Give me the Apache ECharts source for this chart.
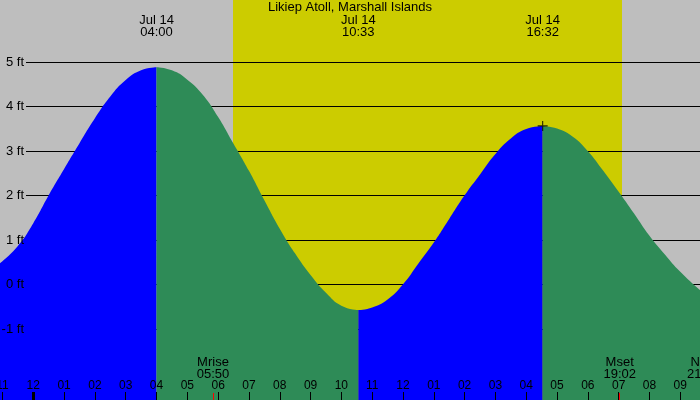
<!DOCTYPE html>
<html>
<head>
<meta charset="utf-8">
<script src="https://cdn.jsdelivr.net/npm/echarts@6/dist/echarts.min.js"></script>
<style>
  html, body { margin: 0; padding: 0; background: #bebebe; }
  #chart { width: 700px; height: 400px; }
</style>
</head>
<body>
<div id="chart"></div>
<script>
// data
const chartTitle = "Likiep Atoll, Marshall Islands";
const dayLabel = "Jul 14";
// tide curve, hours from local midnight
const tideTimes = [-1.08, -0.5, 0, 0.5, 1, 1.5, 2, 2.5, 3, 3.5, 4, 4.5, 5, 5.5, 6, 6.5, 7, 7.5, 8, 8.5, 9, 9.5, 10, 10.55,
  11, 11.5, 12, 12.5, 13, 13.5, 14, 14.5, 15, 15.5, 16, 16.5333, 17, 17.5, 18, 18.5, 19, 19.5, 20, 20.5, 21, 21.64];
const tideHeights = [0.48, 0.87, 1.38, 2.01, 2.6, 3.18, 3.74, 4.23, 4.6, 4.82, 4.89, 4.82, 4.61, 4.27, 3.77, 3.17, 2.56, 1.9, 1.26, 0.7, 0.22, -0.18, -0.47, -0.57,
  -0.51, -0.33, 0.01, 0.48, 0.95, 1.48, 2.01, 2.48, 2.94, 3.29, 3.5, 3.57, 3.51, 3.33, 3.0, 2.56, 2.09, 1.6, 1.1, 0.68, 0.29, -0.12];
const extremeTimes = ["04:00", "10:33", "16:32"];
const extremeHeights = [4.89, -0.57, 3.57];
const markedExtreme = 2;
const sunTimes = ["06:29", "19:06"];
const moonNames = ["Mrise", "Mset", "New"];
const moonTimes = ["05:50", "19:02", "21:45"];
const hourTicks = [-1, 0, 1, 2, 3, 4, 5, 6, 7, 8, 9, 10, 11, 12, 13, 14, 15, 16, 17, 18, 19, 20, 21];
const midnightTicks = [0];
const feetTicks = [-1, 0, 1, 2, 3, 4, 5];

const xMin = -1.08, xMax = 21.64;
const yMin = -2.59, yMax = 6.40;
const font = "'Liberation Sans', Arial, sans-serif";
const GRAY = "#bebebe", YELLOW = "#cccc00", BLUE = "#0000ff", GREEN = "#2e8b57";

function toHours(s) {
  const p = s.split(":");
  return +p[0] + +p[1] / 60;
}
function pad(n) { return (n < 10 ? "0" : "") + n; }
function hhmm(v) {
  const m = Math.round(v * 60);
  return pad(Math.floor(m / 60)) + ":" + pad(m % 60);
}

const extremeHours = extremeTimes.map(toHours);
const bounds = [tideTimes[0]].concat(extremeHours, [tideTimes[tideTimes.length - 1]]);

var tideSeries = [];
for (var i = 0; i < bounds.length - 1; i++) {
  var seg = [];
  tideTimes.forEach(function (t, j) {
    if (t >= bounds[i] - 1e-3 && t <= bounds[i + 1] + 1e-3) seg.push([t, tideHeights[j]]);
  });
  var rising = seg[seg.length - 1][1] > seg[0][1];
  tideSeries.push({
    type: "line",
    data: seg,
    smooth: 0.5,
    symbol: "none",
    silent: true,
    z: 3,
    lineStyle: { width: 0 },
    areaStyle: { color: rising ? BLUE : GREEN, opacity: 1, origin: "start" },
  });
}

function xAxisBase(extra) {
  return Object.assign({
    type: "value", min: xMin, max: xMax, position: "bottom", z: 10,
    axisLine: { show: false, onZero: false }, splitLine: { show: false },
  }, extra);
}

var chart = echarts.init(document.getElementById("chart"));
chart.setOption({
  backgroundColor: GRAY,
  animation: false,
  title: {
    text: chartTitle,
    left: "center",
    top: 1,
    padding: 0,
    textStyle: { fontSize: 13, fontWeight: "normal", color: "#000", fontFamily: font },
  },
  grid: { left: 0, right: 0, top: 0, bottom: 0, outerBoundsMode: "none", containLabel: false },
  xAxis: [
    xAxisBase({
      axisTick: { inside: true, length: 8, customValues: hourTicks, lineStyle: { color: "#000", width: 1 } },
      axisLabel: {
        inside: true, margin: 8, customValues: hourTicks, color: "#000", fontSize: 12, fontFamily: font,
        formatter: function (v) { var h = ((v % 12) + 12) % 12; return pad(h === 0 ? 12 : h); },
      },
    }),
    xAxisBase({
      axisLabel: { show: false },
      axisTick: { inside: true, length: 8, customValues: midnightTicks, lineStyle: { color: "#000", width: 3 } },
    }),
    xAxisBase({
      axisLabel: { show: false },
      axisTick: { inside: true, length: 7, customValues: moonTimes.map(toHours), lineStyle: { color: "#ff0000", width: 1 } },
    }),
    xAxisBase({
      position: "top", axisTick: { show: false },
      axisLabel: {
        inside: true, margin: 14, customValues: extremeHours, color: "#000", fontSize: 13, lineHeight: 12, fontFamily: font,
        formatter: function (v) { return dayLabel + "\n" + hhmm(v); },
      },
    }),
  ],
  yAxis: {
    type: "value", min: yMin, max: yMax, offset: -26, z: 10,
    axisLine: { show: false, onZero: false }, splitLine: { show: false }, axisTick: { show: false },
    axisLabel: {
      margin: 2, customValues: feetTicks, color: "#000", fontSize: 13, fontFamily: font,
      formatter: function (v) { return v + " ft"; },
    },
  },
  series: [
    {
      type: "custom", z: 1, silent: true,
      data: [[toHours(sunTimes[0]), toHours(sunTimes[1])]],
      renderItem: function (params, api) {
        var p0 = api.coord([api.value(0), yMax]);
        var p1 = api.coord([api.value(1), yMin]);
        return { type: "rect", shape: { x: Math.round(p0[0]), y: p0[1], width: Math.round(p1[0]) - Math.round(p0[0]), height: p1[1] - p0[1] }, style: { fill: YELLOW } };
      },
    },
    {
      type: "custom", z: 2, silent: true,
      data: feetTicks.map(function (v) { return [0, v]; }),
      renderItem: function (params, api) {
        var y = Math.floor(api.coord([0, api.value(1)])[1]) + 0.5;
        var cs = params.coordSys;
        return { type: "line", shape: { x1: 26, y1: y, x2: cs.x + cs.width, y2: y }, style: { stroke: "#000", lineWidth: 1 } };
      },
    },
  ].concat(tideSeries, [
    {
      type: "scatter", z: 4, silent: true,
      data: [[extremeHours[markedExtreme], extremeHeights[markedExtreme]]],
      symbol: "path://M4,0h1v4h4v1h-4v4h-1v-4h-4v-1h4z",
      symbolSize: 10,
      itemStyle: { color: "#000" },
    },
  ]),
});

// moon labels, placed through the x scale (the last one falls past the right edge)
chart.setOption({
  graphic: moonNames.map(function (name, k) {
    var x = chart.convertToPixel({ xAxisIndex: 0 }, toHours(moonTimes[k]));
    return {
      type: "text", x: x, y: 380, z: 100, silent: true,
      style: { text: name + "\n" + moonTimes[k], align: "center", verticalAlign: "bottom", lineHeight: 12, fill: "#000", font: "13px " + font },
    };
  }),
});
</script>
</body>
</html>
